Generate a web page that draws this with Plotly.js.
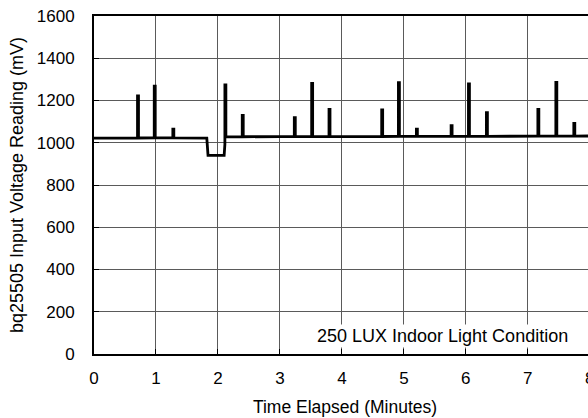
<!DOCTYPE html>
<html><head><meta charset="utf-8">
<script src="https://cdn.plot.ly/plotly-3.0.1.min.js"></script>
<style>html,body{margin:0;padding:0;overflow:hidden;background:#fff;width:588px;height:418px}#c{width:612px;height:418px}</style>
</head><body><div id="c"></div>
<script>
// Baseline segments (minutes, mV)
const baseTimes  = [0.00, 0.50, 1.00, 1.50, 1.82, 1.84, 2.10, 2.12, 3.00, 4.00, 5.00, 6.00, 7.00, 8.10];
const baseValues = [1022, 1022, 1023, 1023, 1022,  940,  940, 1028, 1029, 1029, 1030, 1030, 1031, 1032];
// Spike events
const spikeTimes = [0.71, 0.98, 1.28, 2.12, 2.40, 3.24, 3.52, 3.80, 4.65, 4.92, 5.21, 5.77, 6.05, 6.34, 7.17, 7.46, 7.75];
const spikePeaks = [1222, 1268, 1064, 1281, 1130, 1119, 1281, 1158, 1155, 1284, 1064, 1081, 1278, 1142, 1158, 1286, 1092];
const xTicks = [0,1,2,3,4,5,6,7,8];
const yTicks = [0,200,400,600,800,1000,1200,1400,1600];

function baseAt(t){
  for(let i=0;i<baseTimes.length-1;i++){
    if(t>=baseTimes[i] && t<=baseTimes[i+1]){
      const a=baseTimes[i], b=baseTimes[i+1];
      return baseValues[i]+(baseValues[i+1]-baseValues[i])*(t-a)/(b-a);
    }
  }
  return baseValues[baseValues.length-1];
}
let pts = baseTimes.map((t,i)=>({t:t,v:baseValues[i]}));
const w = 0.008;
spikeTimes.forEach((t,i)=>{
  pts.push({t:t-w, v:baseAt(t-w)});
  pts.push({t:t-w+0.0001, v:spikePeaks[i]});
  pts.push({t:t+w-0.0001, v:spikePeaks[i]});
  pts.push({t:t+w, v:baseAt(t+w)});
});
pts.sort((a,b)=>a.t-b.t);
const xs = pts.map(p=>p.t), ys = pts.map(p=>p.v);

const fontFam = 'Liberation Sans, Arial, sans-serif';
Plotly.newPlot('c', [{
  x: xs, y: ys, type:'scatter', mode:'lines',
  line:{color:'#000', width:2.8}, hoverinfo:'skip'
}], {
  width:612, height:418,
  margin:{l:94, r:16, t:16, b:64},
  paper_bgcolor:'#fff', plot_bgcolor:'#fff',
  showlegend:false,
  font:{family:fontFam, size:17, color:'#000'},
  xaxis:{range:[0,8.1], tickvals:xTicks, ticktext:xTicks.map(String),
    showgrid:true, gridcolor:'#5a5a5a', gridwidth:1,
    showline:true, linecolor:'#000', linewidth:2, mirror:true,
    ticks:'inside', ticklen:5, tickcolor:'#000', zeroline:false,
    ticklabelstandoff:8,
    tickfont:{family:fontFam,size:17,color:'#000'},
    title:{text:'Time Elapsed (Minutes)', font:{family:fontFam,size:17.5,color:'#000'}, standoff:13}},
  yaxis:{range:[0,1600], tickvals:yTicks, ticktext:yTicks.map(String),
    showgrid:true, gridcolor:'#5a5a5a', gridwidth:1,
    showline:true, linecolor:'#000', linewidth:2,
    ticks:'inside', ticklen:5, tickcolor:'#000', zeroline:false,
    ticklabelstandoff:14,
    tickfont:{family:fontFam,size:17,color:'#000'},
    title:{text:'bq25505 Input Voltage Reading (mV)', font:{family:fontFam,size:18,color:'#000'}, standoff:8}},
  annotations:[{text:'250 LUX Indoor Light Condition', xref:'x', yref:'y', x:5.63, y:85,
    showarrow:false, font:{family:fontFam,size:18,color:'#000'}, bgcolor:'#fff'}]
}, {staticPlot:true, displayModeBar:false});
</script></body></html>
